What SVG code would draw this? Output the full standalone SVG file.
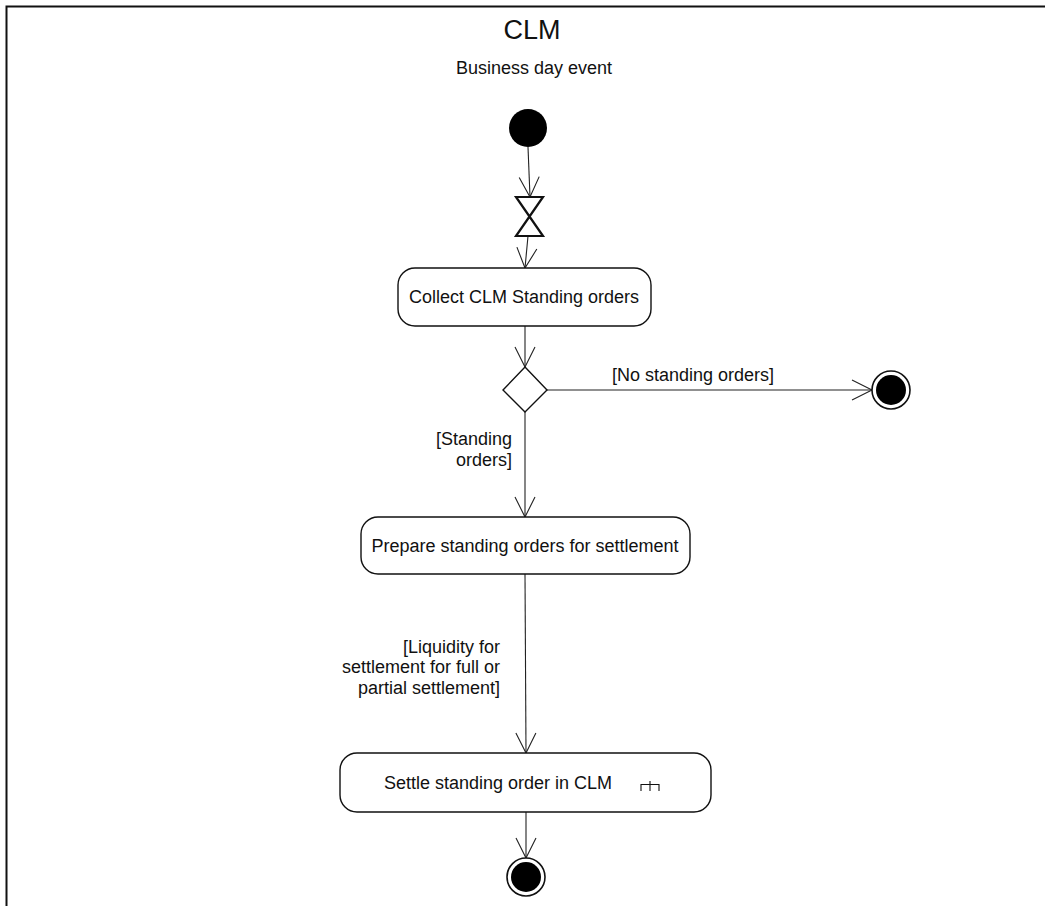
<svg xmlns="http://www.w3.org/2000/svg" width="1045" height="906" viewBox="0 0 1045 906">
<style>
text{font-family:"Liberation Sans",Arial,sans-serif;fill:#111;font-size:18px}
.node{fill:#fff;stroke:#111;stroke-width:1.4}
.conn{fill:none;stroke:#222;stroke-width:1.1}
.lbl{text-anchor:end}
.mid{text-anchor:middle}
</style>
<defs>
<marker id="arr" markerUnits="userSpaceOnUse" markerWidth="24" markerHeight="24" viewBox="-22 -12 24 24" refX="0" refY="0" orient="auto">
<path d="M-20,-10 L0,0 L-20,10" fill="none" stroke="#222" stroke-width="1.1"/>
</marker>
</defs>
<rect width="1045" height="906" fill="#fff"/>
<path d="M6.5,906 V6.5 H1045" fill="none" stroke="#111" stroke-width="2"/>
<text class="mid" x="532" y="39" style="font-size:27px">CLM</text>
<text class="mid" x="534" y="74">Business day event</text>
<g id="connectors">
<path class="conn" d="M528,147 L530,197" marker-end="url(#arr)"/>
<path class="conn" d="M528,236 L525,268" marker-end="url(#arr)"/>
<path class="conn" d="M525,326 L525,367" marker-end="url(#arr)"/>
<path class="conn" d="M547,390 L872,390" marker-end="url(#arr)"/>
<path class="conn" d="M525,412 L525,517" marker-end="url(#arr)"/>
<path class="conn" d="M525,574 L526,753" marker-end="url(#arr)"/>
<path class="conn" d="M526,812 L526,858" marker-end="url(#arr)"/>
<text class="mid" x="693" y="381">[No standing orders]</text>
<text class="lbl" x="512" y="445">[Standing</text>
<text class="lbl" x="512" y="466">orders]</text>
<text class="lbl" x="500" y="653">[Liquidity for</text>
<text class="lbl" x="500" y="673">settlement for full or</text>
<text class="lbl" x="500" y="694">partial settlement]</text>
</g>
<g id="initial"><circle cx="528" cy="128" r="19" fill="#000"/></g>
<g id="timeEvent"><path d="M516,197 H543 L516,236 H543 Z" fill="#fff" stroke="#111" stroke-width="2.2" stroke-linejoin="miter"/></g>
<g id="collect">
<rect class="node" x="398" y="268" width="253" height="58" rx="17"/>
<text class="mid" x="524" y="303">Collect CLM Standing orders</text>
</g>
<g id="decision"><path class="node" d="M525,367 L547,390 L525,412 L503,390 Z"/></g>
<g id="finalNoOrders">
<circle cx="891" cy="390" r="19" fill="#fff" stroke="#111" stroke-width="1.6"/>
<circle cx="891" cy="390" r="15" fill="#000"/>
</g>
<g id="prepare">
<rect class="node" x="361" y="517" width="329" height="57" rx="17"/>
<text class="mid" x="525" y="552">Prepare standing orders for settlement</text>
</g>
<g id="settle">
<rect class="node" x="340" y="753" width="371" height="59" rx="17"/>
<text class="mid" x="498" y="789">Settle standing order in CLM</text>
<path d="M650,781 V791 M641,791 V784.5 H659 V791" fill="none" stroke="#111" stroke-width="1.1"/>
</g>
<g id="finalEnd">
<circle cx="526" cy="877" r="19" fill="#fff" stroke="#111" stroke-width="1.6"/>
<circle cx="526" cy="877" r="15" fill="#000"/>
</g>
</svg>
